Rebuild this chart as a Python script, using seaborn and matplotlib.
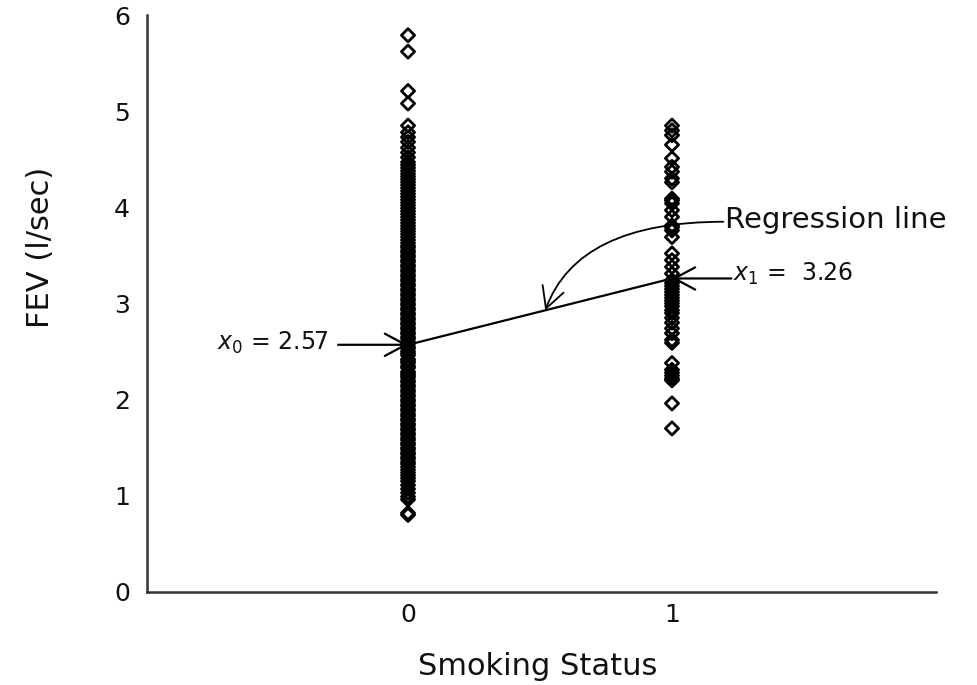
import matplotlib
matplotlib.use("Agg")
import matplotlib.pyplot as plt
import seaborn as sns
import pandas as pd

sns.set_style("white")
plt.rcParams['font.family'] = ['DejaVu Sans']

# ---- data ----
nonsmoker_fev = [5.79, 5.62, 5.21, 5.08, 4.85, 4.78, 4.73, 4.68, 4.62, 4.57, 4.52,
                 4.47, 4.44, 4.41, 4.38, 4.35, 4.32, 4.29, 4.26, 4.23, 4.20, 4.17,
                 4.14, 4.11, 4.08, 4.05, 4.02, 3.99, 3.96, 3.93, 3.90, 3.87, 3.84,
                 3.81, 3.78, 3.75, 3.72, 3.69,
                 3.66, 3.63, 3.60, 3.58, 3.55, 3.53, 3.50, 3.48, 3.45, 3.43, 3.40,
                 3.38, 3.35, 3.33, 3.30, 3.28, 3.25, 3.23, 3.20, 3.18, 3.15, 3.13,
                 3.10, 3.08, 3.05, 3.03, 3.00, 2.98, 2.95, 2.93, 2.90, 2.88, 2.85,
                 2.83, 2.80, 2.78, 2.75, 2.73, 2.70, 2.68, 2.65, 2.63, 2.60, 2.58,
                 2.55, 2.53, 2.50, 2.48, 2.46, 2.42, 2.40, 2.38, 2.35, 2.33, 2.29,
                 2.27, 2.25, 2.23, 2.20, 2.18, 2.15, 2.13, 2.10, 2.08, 2.05, 2.03,
                 2.00, 1.98, 1.95, 1.93, 1.90, 1.88, 1.85, 1.83, 1.80, 1.78, 1.75,
                 1.73, 1.70, 1.68, 1.65, 1.63, 1.60, 1.58, 1.55, 1.53, 1.50, 1.48,
                 1.45, 1.43, 1.40, 1.38, 1.35, 1.33, 1.30, 1.27, 1.24, 1.21, 1.18,
                 1.15, 1.11, 1.07, 1.03, 0.99, 0.96, 0.82, 0.80]
smoker_fev = [4.85, 4.80, 4.75, 4.65, 4.51, 4.42, 4.37, 4.30, 4.26, 4.09, 4.07,
              4.04, 3.97, 3.90, 3.81, 3.79, 3.76, 3.69, 3.52, 3.45, 3.38, 3.31,
              3.24, 3.21, 3.18, 3.15, 3.12, 3.09, 3.06, 3.03, 3.00, 2.97, 2.93,
              2.90, 2.85, 2.80, 2.74, 2.69, 2.62, 2.59, 2.38, 2.31, 2.28, 2.25,
              2.22, 2.20, 1.96, 1.70]
smoking_status = [0, 1]
group_means = [2.57, 3.26]
mean_labels = [r"$x_{0}$ = 2.57", r"$x_{1}$ =  3.26"]
y_ticks = [0, 1, 2, 3, 4, 5, 6]
x_ticks = [0, 1]

df = pd.DataFrame({
    "status": [0] * len(nonsmoker_fev) + [1] * len(smoker_fev),
    "fev": nonsmoker_fev + smoker_fev,
})

fig = plt.figure(figsize=(9.78, 6.85), dpi=100)
ax = fig.add_axes([0.150, 0.136, 0.807, 0.842])

sns.scatterplot(data=df, x="status", y="fev", ax=ax, marker="D", s=45,
                facecolor="none", edgecolor="black", linewidth=2.0, zorder=3)
sns.lineplot(x=smoking_status, y=group_means, ax=ax, color="black",
             linewidth=1.6, zorder=4)

ax.set_xlim(-0.99, 2.0)
ax.set_ylim(0, 6)
ax.set_xticks(x_ticks)
ax.set_yticks(y_ticks)
ax.tick_params(direction="in", length=12, width=1.4, labelsize=18, colors="#111111",
               pad=12)
ax.tick_params(axis="x", pad=8)
for side in ["top", "right"]:
    ax.spines[side].set_visible(False)
for side in ["left", "bottom"]:
    ax.spines[side].set_color("#333333")
    ax.spines[side].set_linewidth(1.8)

ax.set_xlabel("Smoking Status", fontsize=22, va="center", color="#111111")
ax.set_ylabel("FEV (l/sec)", fontsize=22, va="center", color="#111111")
ax.xaxis.set_label_coords(0.495, -0.130)
ax.yaxis.set_label_coords(-0.135, 0.597)

arrow_kw = dict(arrowstyle="->,head_length=1.5,head_width=0.8", color="black",
                lw=1.6, shrinkA=0, shrinkB=0)

# x0 annotation
ax.annotate("", xy=(smoking_status[0], group_means[0]), xytext=(-0.265, group_means[0]),
            arrowprops=arrow_kw)
ax.text(-0.30, group_means[0] + 0.02, mean_labels[0], ha="right", va="center",
        fontsize=17, color="#111111")

# x1 annotation
ax.annotate("", xy=(smoking_status[1], group_means[1]), xytext=(1.225, group_means[1]),
            arrowprops=arrow_kw)
ax.text(1.23, group_means[1] + 0.05, mean_labels[1], ha="left", va="center",
        fontsize=17, color="#111111")

# regression line label
tip_x = 0.52
tip_y = group_means[0] + (group_means[1] - group_means[0]) * tip_x
ax.annotate("", xy=(tip_x, tip_y), xytext=(1.195, 3.85),
            arrowprops=dict(arrowstyle="->,head_length=1.5,head_width=0.8",
                            color="black", lw=1.3, shrinkA=0, shrinkB=0,
                            connectionstyle="angle3,angleA=0,angleB=70"))
ax.text(1.2, 3.87, "Regression line", ha="left", va="center", fontsize=21,
        color="#111111")

fig.savefig("out.png", dpi=100)
